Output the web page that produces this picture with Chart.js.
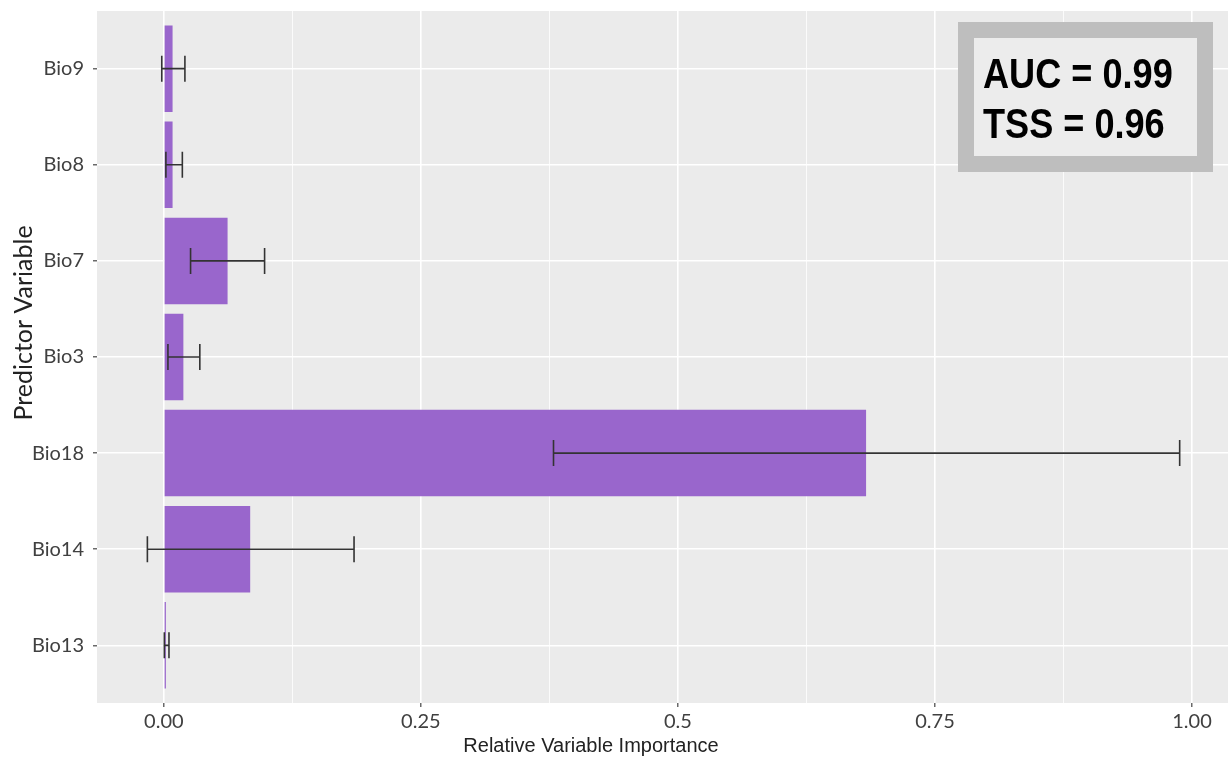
<!DOCTYPE html>
<html>
<head>
<meta charset="utf-8">
<script src="https://cdn.jsdelivr.net/npm/chart.js@4"></script>
<style>
  html, body { margin: 0; padding: 0; background: #fff; }
  #wrap { width: 1228px; height: 758px; }
</style>
</head>
<body>
<div id="wrap"><canvas id="importancia"></canvas></div>
<script>
// dados
const variaveis = ["Bio9", "Bio8", "Bio7", "Bio3", "Bio18", "Bio14", "Bio13"];
const importancia = [0.0085, 0.0085, 0.062, 0.019, 0.683, 0.084, 0.002];
const erroMin = [-0.002, 0.002, 0.026, 0.004, 0.379, -0.016, 0.0005];
const erroMax = [0.0205, 0.018, 0.098, 0.035, 0.988, 0.185, 0.005];

const ticksMaiores = [0, 0.25, 0.5, 0.75, 1];
const rotulosX = ["0.00", "0.25", "0.5", "0.75", "1.00"];
const ticksMenores = [0.125, 0.375, 0.625, 0.875];

const metricas = ["AUC = 0.99", "TSS = 0.96"];

const fonteRotulo = "Lato, 'Open Sans', sans-serif";

// fundo cinza do painel (estilo ggplot)
const painel = {
  id: "painel",
  beforeDraw(chart) {
    const { ctx, chartArea: a } = chart;
    ctx.save();
    ctx.fillStyle = "#EBEBEB";
    ctx.fillRect(a.left, a.top, a.right - a.left, a.bottom - a.top);
    ctx.restore();
  },
};

// barras de erro horizontais
const barrasErro = {
  id: "barrasErro",
  afterDatasetsDraw(chart) {
    const { ctx, scales } = chart;
    ctx.save();
    ctx.strokeStyle = "#333";
    ctx.lineWidth = 1.6;
    for (let i = 0; i < variaveis.length; i++) {
      const y = scales.y.getPixelForValue(i);
      const x1 = scales.x.getPixelForValue(erroMin[i]);
      const x2 = scales.x.getPixelForValue(erroMax[i]);
      ctx.beginPath();
      ctx.moveTo(x1, y);
      ctx.lineTo(x2, y);
      ctx.moveTo(x1, y - 13);
      ctx.lineTo(x1, y + 13);
      ctx.moveTo(x2, y - 13);
      ctx.lineTo(x2, y + 13);
      ctx.stroke();
    }
    ctx.restore();
  },
};

// titulos dos eixos + caixa AUC/TSS
const textos = {
  id: "textos",
  afterDraw(chart) {
    const { ctx, chartArea: a } = chart;
    ctx.save();

    ctx.fillStyle = "#222";
    ctx.font = "20px Arial, 'Liberation Sans', sans-serif";
    ctx.textAlign = "center";
    ctx.textBaseline = "middle";
    ctx.fillText("Relative Variable Importance", 591, 746);

    ctx.translate(24, 323);
    ctx.rotate(-Math.PI / 2);
    ctx.font = "25px " + fonteRotulo;
    ctx.fillText("Predictor Variable", 0, 0);
    ctx.setTransform(1, 0, 0, 1, 0, 0);

    // caixa
    const bx = a.right - 270, by = a.top + 11, bw = 255, bh = 150, borda = 16;
    ctx.fillStyle = "#BEBEBE";
    ctx.fillRect(bx, by, bw, bh);
    ctx.fillStyle = "#ECECEC";
    ctx.fillRect(bx + borda, by + borda, bw - 2 * borda, bh - 2 * borda);

    ctx.fillStyle = "#000";
    ctx.textAlign = "left";
    ctx.textBaseline = "alphabetic";
    ctx.font = "bold 42px Arial, 'Liberation Sans', sans-serif";
    ctx.translate(bx + 25, by + 66);
    ctx.scale(0.86, 1);
    ctx.fillText(metricas[0], 0, 0);
    ctx.fillText(metricas[1], 0, 50);
    ctx.restore();
  },
};

const ctx1 = document.getElementById("importancia");

new Chart(ctx1, {
  type: "bar",
  data: {
    datasets: [
      {
        label: "Importancia",
        data: importancia.map((v, i) => ({ x: v, y: i })),
        backgroundColor: "#9966CC",
        borderWidth: 0,
        barPercentage: 0.9,
        categoryPercentage: 1,
      },
    ],
  },
  options: {
    indexAxis: "y",
    responsive: true,
    maintainAspectRatio: false,
    animation: false,
    layout: { padding: { top: 11, left: 0, right: 0, bottom: 0 } },
    plugins: {
      legend: { display: false },
      tooltip: { enabled: false },
    },
    scales: {
      x: {
        type: "linear",
        min: -0.065,
        max: 1.035,
        afterBuildTicks(scale) {
          scale.ticks = ticksMaiores
            .concat(ticksMenores)
            .sort((a, b) => a - b)
            .map((v) => ({ value: v }));
        },
        afterFit(scale) {
          scale.height = 55;
          scale.paddingLeft = 0;
          scale.paddingRight = 0;
        },
        border: { display: false },
        grid: {
          color: "#FFFFFF",
          lineWidth: (c) => (c.tick && ticksMaiores.includes(c.tick.value) ? 1.6 : 0.8),
          tickColor: (c) => (c.tick && ticksMaiores.includes(c.tick.value) ? "#444" : "rgba(0,0,0,0)"),
          tickLength: 4,
          tickWidth: 1.2,
        },
        ticks: {
          autoSkip: false,
          maxRotation: 0,
          padding: 3,
          color: "#404040",
          font: { family: fonteRotulo, size: 20 },
          callback: (v) => {
            const k = ticksMaiores.indexOf(v);
            return k >= 0 ? rotulosX[k] : "";
          },
        },
      },
      y: {
        type: "linear",
        min: -0.6,
        max: 6.6,
        reverse: true,
        offset: false,
        afterBuildTicks(scale) {
          scale.ticks = variaveis.map((_, i) => ({ value: i }));
        },
        afterFit(scale) {
          scale.width = 97;
          scale.paddingTop = 0;
          scale.paddingBottom = 0;
        },
        border: { display: false },
        grid: {
          offset: false,
          color: "#FFFFFF",
          lineWidth: 1.6,
          tickColor: "#444",
          tickLength: 4,
          tickWidth: 1.2,
        },
        ticks: {
          autoSkip: false,
          padding: 9,
          color: "#404040",
          font: { family: fonteRotulo, size: 20 },
          callback: (v) => variaveis[v],
        },
      },
    },
  },
  plugins: [painel, barrasErro, textos],
});
</script>
</body>
</html>
